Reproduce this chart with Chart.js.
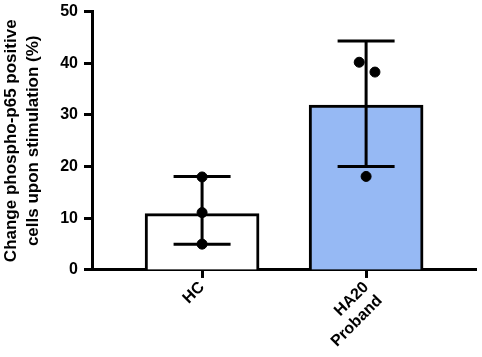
<!DOCTYPE html>
<html>
<head>
<meta charset="utf-8">
<script src="https://cdn.jsdelivr.net/npm/chart.js@4.4.0/dist/chart.umd.min.js"></script>
<style>
html,body{margin:0;padding:0;background:#fff;}
#wrap{width:482px;height:357px;position:relative;}
</style>
</head>
<body>
<div id="wrap"><canvas id="c" width="482" height="357"></canvas></div>
<script>
const categories = ['HC', ['HA20', 'Proband']];
const categoryPos = [0, 1];
const means = [10.9, 31.9];
const errLow = [5.0, 20.0];
const errHigh = [18.1, 44.3];
const pointsX = [0, 0, 0, 0.958, 1.054, 1];
const pointsY = [18.0, 11.1, 5.0, 40.2, 38.3, 18.1];
const yTicks = [0, 10, 20, 30, 40, 50];

const errorBars = {
  id: 'errorBars',
  afterDatasetDraw(chart, args) {
    if (args.index !== 0) return;
    const ctx = chart.ctx, ys = chart.scales.y, xs = chart.scales.x;
    ctx.save();
    ctx.strokeStyle = '#000';
    ctx.lineWidth = 3;
    ctx.lineCap = 'butt';
    args.meta.data.forEach((bar, i) => {
      const x = xs.getPixelForValue(categoryPos[i]);
      const half = bar.width / 4;
      const yl = ys.getPixelForValue(errLow[i]);
      const yh = ys.getPixelForValue(errHigh[i]);
      ctx.beginPath();
      ctx.moveTo(x, yl); ctx.lineTo(x, yh);
      ctx.moveTo(x - half, yl); ctx.lineTo(x + half, yl);
      ctx.moveTo(x - half, yh); ctx.lineTo(x + half, yh);
      ctx.stroke();
    });
    ctx.restore();
  }
};

new Chart(document.getElementById('c'), {
  type: 'bar',
  data: {
    datasets: [
      {
        type: 'bar',
        data: categoryPos.map((x, i) => ({x: x, y: means[i]})),
        backgroundColor: ['#ffffff', '#96b9f4'],
        borderColor: '#000',
        borderWidth: 3,
        barThickness: 114,
        order: 1
      },
      {
        type: 'scatter',
        data: pointsX.map((x, i) => ({x: x, y: pointsY[i]})),
        backgroundColor: '#000',
        borderColor: '#000',
        pointRadius: 5,
        order: 0
      }
    ]
  },
  options: {
    responsive: false,
    animation: false,
    layout: {padding: {top: 0, right: 3, left: 0, bottom: 6}},
    plugins: {legend: {display: false}, tooltip: {enabled: false}},
    scales: {
      x: {
        type: 'linear',
        offset: false,
        min: -0.665,
        max: 1.67,
        afterBuildTicks: (scale) => { scale.ticks = categoryPos.map(v => ({value: v})); },
        ticks: {
          callback: (v) => categories[categoryPos.indexOf(v)],
          minRotation: 45,
          maxRotation: 45,
          color: '#000',
          font: {family: 'Liberation Sans, Arial', size: 16, weight: 'bold'},
          padding: 0,
          autoSkip: false
        },
        grid: {offset: false, drawOnChartArea: false, drawTicks: true, tickLength: 8, tickColor: '#000', tickWidth: 3},
        border: {color: '#000', width: 3}
      },
      y: {
        min: 0,
        max: 50,
        afterBuildTicks: (scale) => { scale.ticks = yTicks.map(v => ({value: v})); },
        afterFit: (scale) => { scale.paddingTop = Math.max(0, scale.paddingTop - 4); },
        ticks: {
          color: '#000',
          font: {family: 'Liberation Sans, Arial', size: 16, weight: 'bold'},
          padding: 6
        },
        grid: {drawOnChartArea: false, drawTicks: true, tickLength: 9, tickColor: '#000', tickWidth: 3},
        border: {color: '#000', width: 3},
        title: {
          display: true,
          text: ['Change phospho-p65 positive', 'cells upon stimulation (%)'],
          color: '#000',
          font: {family: 'Liberation Sans, Arial', size: 17, weight: 'bold', lineHeight: 1.3},
          padding: {top: 0, bottom: 10}
        }
      }
    }
  },
  plugins: [errorBars]
});
</script>
</body>
</html>
